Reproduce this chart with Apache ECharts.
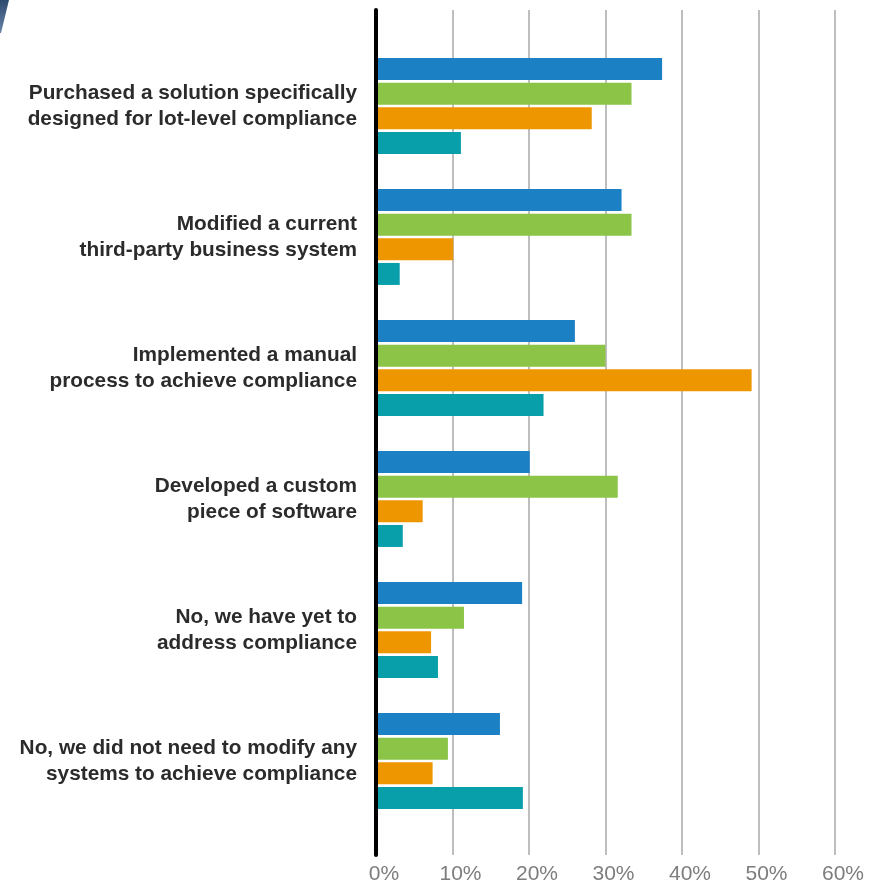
<!DOCTYPE html>
<html>
<head>
<meta charset="utf-8">
<script src="https://cdn.jsdelivr.net/npm/echarts@6/dist/echarts.min.js"></script>
<style>
html,body{margin:0;padding:0;background:#fff;}
#chart{width:882px;height:885px;}
</style>
</head>
<body>
<div id="chart"></div>
<script>
const categories = [
  "Purchased a solution specifically\ndesigned for lot-level compliance",
  "Modified a current\nthird-party business system",
  "Implemented a manual\nprocess to achieve compliance",
  "Developed a custom\npiece of software",
  "No, we have yet to\naddress compliance",
  "No, we did not need to modify any\nsystems to achieve compliance"
];
const seriesBlue   = [37.4, 32.1, 26.0, 20.1, 19.1, 16.2];
const seriesGreen  = [33.4, 33.4, 30.0, 31.6, 11.5, 9.4];
const seriesOrange = [28.2, 10.1, 49.1, 6.1, 7.2, 7.4];
const seriesTeal   = [11.1, 3.1, 21.9, 3.5, 8.1, 19.2];
const xTicks = [0, 10, 20, 30, 40, 50, 60];

const colors = ['#1c80c4', '#8bc446', '#ee9600', '#089fab'];
const allSeries = [seriesBlue, seriesGreen, seriesOrange, seriesTeal];

const chart = echarts.init(document.getElementById('chart'), null, {renderer: 'canvas'});
const gridLeft = 376, gridRight = 47;
chart.setOption({
  animation: false,
  backgroundColor: '#fff',
  graphic: [{
    type: 'polygon',
    shape: {points: [[0,0],[9,0],[1,33],[0,33]]},
    style: {fill: new echarts.graphic.LinearGradient(0,0,0,1,[{offset:0,color:'#2e4a6e'},{offset:1,color:'#6784a8'}])}
  }],
  grid: [
    {left: gridLeft, right: gridRight, top: 10, bottom: 30},
    {left: gridLeft, right: gridRight, top: 40.5, bottom: 885 - 826.5}
  ],
  xAxis: [
    {
      gridIndex: 0, type: 'value', min: xTicks[0], max: xTicks[xTicks.length-1], interval: 10,
      axisLine: {show: false}, axisTick: {show: false},
      splitLine: {show: true, lineStyle: {color: '#a8a8a8', width: 1.5}},
      axisLabel: {
        formatter: '{value}%', color: '#7d7d7d', fontSize: 21,
        fontFamily: 'Liberation Sans, Arial, sans-serif', margin: 9,
        padding: [0, 0, 0, 16]
      }
    },
    {
      gridIndex: 1, type: 'value', min: xTicks[0], max: xTicks[xTicks.length-1], interval: 10,
      show: false
    }
  ],
  yAxis: [
    {
      gridIndex: 0, type: 'value', min: 0, max: 1, z: 10,
      axisLine: {show: true, lineStyle: {color: '#000', width: 4}},
      axisTick: {show: false}, axisLabel: {show: false}, splitLine: {show: false}
    },
    {
      gridIndex: 1, type: 'category', data: categories, inverse: true,
      axisLine: {show: false}, axisTick: {show: false}, splitLine: {show: false},
      axisLabel: {
        margin: 19, color: '#2b2b2b', fontSize: 20.8, fontWeight: 'bold',
        fontFamily: 'Liberation Sans, Arial, sans-serif', lineHeight: 26, align: 'right'
      }
    }
  ],
  series: allSeries.map((d, i) => ({
    type: 'bar', xAxisIndex: 1, yAxisIndex: 1, data: d,
    barWidth: 22, barGap: '12%',
    itemStyle: {color: colors[i]}
  }))
});
</script>
</body>
</html>
